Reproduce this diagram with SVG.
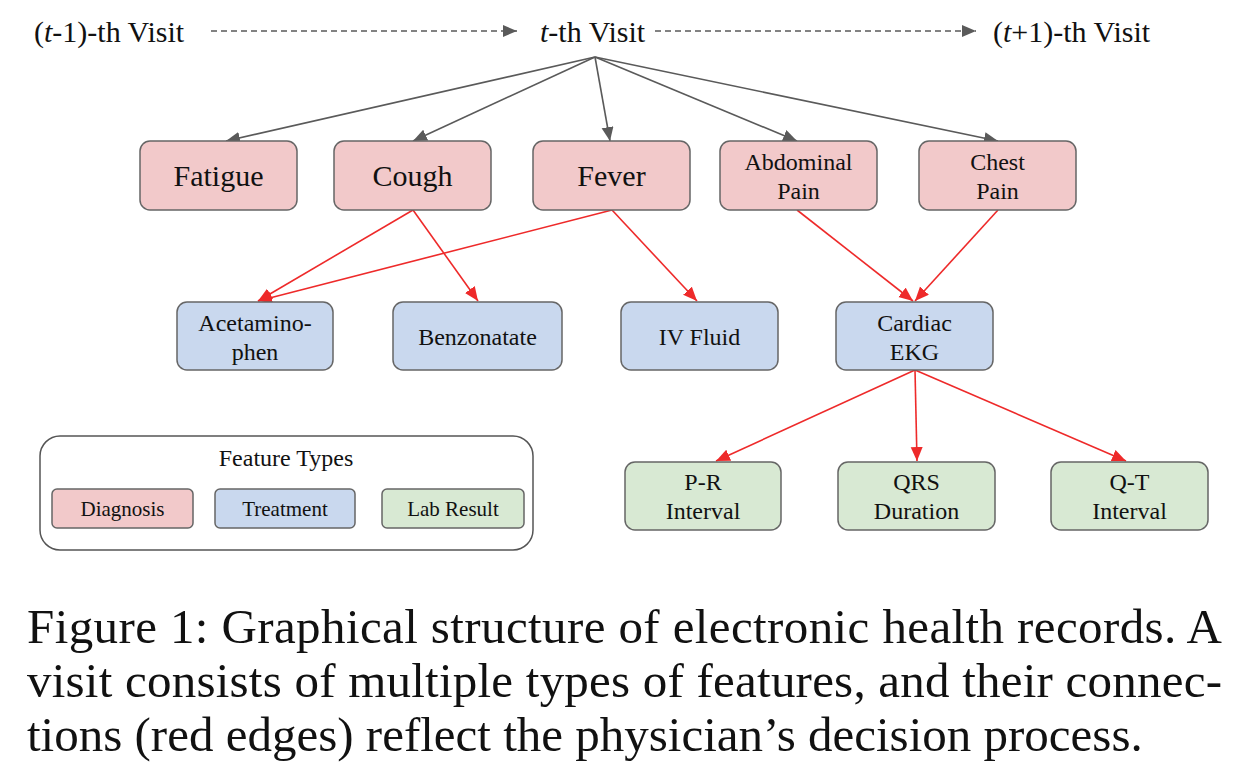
<svg xmlns="http://www.w3.org/2000/svg" width="1247" height="780" viewBox="0 0 1247 780">
<style>
text{font-family:"Liberation Serif","Times New Roman",serif;fill:#111}
.box{stroke:#666;stroke-width:1.5}
.dx{fill:#f2c9ca}
.tx{fill:#c9d8ee}
.lx{fill:#d8e9d3}
.big{font-size:30px;text-anchor:middle}
.mid{font-size:24px;text-anchor:middle}
.sm{font-size:21px;text-anchor:middle}
.hdr{font-size:30px}
.cap{font-size:49px}
.g{stroke:#5a5a5a;stroke-width:1.6;fill:none}
.r{stroke:#ee2a2a;stroke-width:1.6;fill:none}
</style>
<defs>
<marker id="ag" markerUnits="userSpaceOnUse" markerWidth="16" markerHeight="14" refX="14" refY="6" orient="auto"><path d="M0,0 L14,6 L0,12 z" fill="#5a5a5a"/></marker>
<marker id="ar" markerUnits="userSpaceOnUse" markerWidth="16" markerHeight="14" refX="14" refY="6" orient="auto"><path d="M0,0 L14,6 L0,12 z" fill="#ee2a2a"/></marker>
</defs>

<g id="visits">
<text class="hdr" x="34" y="42">(<tspan font-style="italic">t</tspan>-1)-th Visit</text>
<text class="hdr" x="540" y="42"><tspan font-style="italic">t</tspan>-th Visit</text>
<text class="hdr" x="993" y="42">(<tspan font-style="italic">t</tspan>+1)-th Visit</text>
</g>

<g id="connectors">
<line class="g" x1="211" y1="31" x2="517" y2="31" stroke-dasharray="6,4" marker-end="url(#ag)"/>
<line class="g" x1="655" y1="31" x2="976" y2="31" stroke-dasharray="6,4" marker-end="url(#ag)"/>
<line class="g" x1="595" y1="57" x2="226" y2="141" marker-end="url(#ag)"/>
<line class="g" x1="595" y1="57" x2="413" y2="141" marker-end="url(#ag)"/>
<line class="g" x1="595" y1="57" x2="610" y2="141" marker-end="url(#ag)"/>
<line class="g" x1="595" y1="57" x2="797" y2="141" marker-end="url(#ag)"/>
<line class="g" x1="595" y1="57" x2="998" y2="141" marker-end="url(#ag)"/>
<line class="r" x1="413" y1="210" x2="258" y2="301" marker-end="url(#ar)"/>
<line class="r" x1="413" y1="210" x2="478" y2="301" marker-end="url(#ar)"/>
<line class="r" x1="612" y1="210" x2="258" y2="301" marker-end="url(#ar)"/>
<line class="r" x1="612" y1="210" x2="697" y2="301" marker-end="url(#ar)"/>
<line class="r" x1="797" y1="210" x2="913" y2="301" marker-end="url(#ar)"/>
<line class="r" x1="998" y1="210" x2="915" y2="301" marker-end="url(#ar)"/>
<line class="r" x1="915" y1="370" x2="716" y2="461" marker-end="url(#ar)"/>
<line class="r" x1="915" y1="370" x2="917" y2="461" marker-end="url(#ar)"/>
<line class="r" x1="915" y1="370" x2="1126" y2="461" marker-end="url(#ar)"/>
</g>

<g id="fatigue"><rect class="box dx" x="140" y="141" width="157" height="69" rx="10"/><text class="big" x="218.5" y="186">Fatigue</text></g>
<g id="cough"><rect class="box dx" x="334" y="141" width="157" height="69" rx="10"/><text class="big" x="412.5" y="186">Cough</text></g>
<g id="fever"><rect class="box dx" x="533" y="141" width="157" height="69" rx="10"/><text class="big" x="611.5" y="186">Fever</text></g>
<g id="abdominal-pain"><rect class="box dx" x="720" y="141" width="157" height="69" rx="10"/><text class="mid" x="798.5" y="170">Abdominal</text><text class="mid" x="798.5" y="199">Pain</text></g>
<g id="chest-pain"><rect class="box dx" x="919" y="141" width="157" height="69" rx="10"/><text class="mid" x="997.5" y="170">Chest</text><text class="mid" x="997.5" y="199">Pain</text></g>

<g id="acetaminophen"><rect class="box tx" x="177" y="302" width="156" height="68" rx="10"/><text class="mid" x="255" y="331">Acetamino-</text><text class="mid" x="255" y="360">phen</text></g>
<g id="benzonatate"><rect class="box tx" x="393" y="302" width="169" height="68" rx="10"/><text class="mid" x="477.5" y="345">Benzonatate</text></g>
<g id="iv-fluid"><rect class="box tx" x="621" y="302" width="157" height="68" rx="10"/><text class="mid" x="699.5" y="345">IV Fluid</text></g>
<g id="cardiac-ekg"><rect class="box tx" x="836" y="302" width="157" height="68" rx="10"/><text class="mid" x="914.5" y="331">Cardiac</text><text class="mid" x="914.5" y="360">EKG</text></g>

<g id="pr-interval"><rect class="box lx" x="625" y="462" width="156" height="68" rx="10"/><text class="mid" x="703" y="490">P-R</text><text class="mid" x="703" y="519">Interval</text></g>
<g id="qrs-duration"><rect class="box lx" x="838" y="462" width="157" height="68" rx="10"/><text class="mid" x="916.5" y="490">QRS</text><text class="mid" x="916.5" y="519">Duration</text></g>
<g id="qt-interval"><rect class="box lx" x="1051" y="462" width="157" height="68" rx="10"/><text class="mid" x="1129.5" y="490">Q-T</text><text class="mid" x="1129.5" y="519">Interval</text></g>

<g id="legend">
<rect x="40" y="436" width="493" height="114" rx="20" fill="#fff" stroke="#555" stroke-width="1.5"/>
<text class="mid" x="286" y="466">Feature Types</text>
<rect class="box dx" x="52" y="489" width="141" height="39" rx="5"/><text class="sm" x="122.5" y="516">Diagnosis</text>
<rect class="box tx" x="215" y="489" width="140" height="39" rx="5"/><text class="sm" x="285" y="516">Treatment</text>
<rect class="box lx" x="382" y="489" width="142" height="39" rx="5"/><text class="sm" x="453" y="516">Lab Result</text>
</g>

<g id="caption">
<text class="cap" x="27" y="643" textLength="1195" lengthAdjust="spacing">Figure 1: Graphical structure of electronic health records. A</text>
<text class="cap" x="27" y="697" textLength="1195" lengthAdjust="spacing">visit consists of multiple types of features, and their connec-</text>
<text class="cap" x="27" y="751">tions (red edges) reflect the physician’s decision process.</text>
</g>
</svg>
